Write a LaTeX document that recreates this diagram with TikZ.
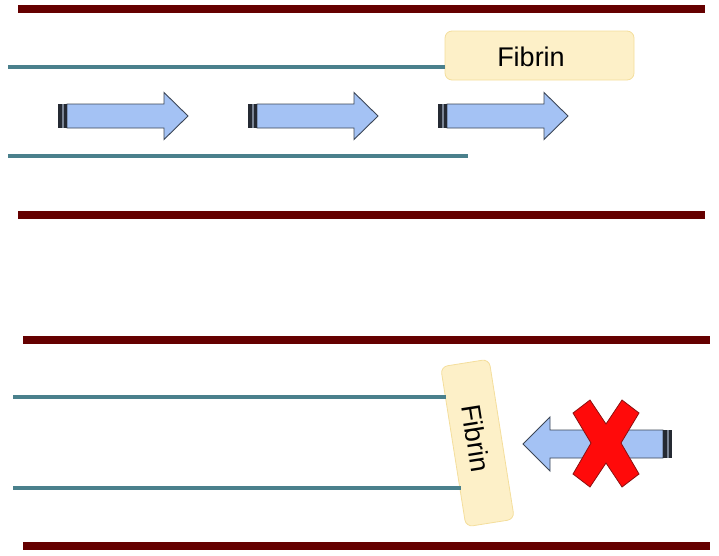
\documentclass[tikz,border=0pt]{standalone}
\usepackage{fontspec}
\setmainfont{Liberation Sans}
\begin{document}
\begin{tikzpicture}[x=1pt,y=-1pt,
  wall/.style={line width=8pt,draw=wallred},
  vessel/.style={line width=3.5pt,draw=tealc},
  fibbox/.style={draw=fibborder,fill=fibfill,rounded corners=7pt,line width=0.8pt,inner sep=0pt},
  fibtext/.style={font=\fontsize{27}{30}\selectfont,text=black,inner sep=0pt},
  arrowbody/.style={draw=arrowedge,fill=arrowfill,line width=0.9pt,line join=miter},
  pics/rarrow/.style={code={
    \draw[arrowbody] (9,-12) -- (106,-12) -- (106,-23.5) -- (130,0) -- (106,23.5) -- (106,12) -- (9,12) -- cycle;
    \fill[stripe] (0,-12) rectangle (9,12);
    \fill[stripegap] (4,-12) rectangle (5.5,12);
  }},
]
\definecolor{wallred}{HTML}{650000}
\definecolor{tealc}{HTML}{4A808C}
\definecolor{fibfill}{HTML}{FDF0C8}
\definecolor{fibborder}{HTML}{F4DE9C}
\definecolor{arrowfill}{HTML}{A4C2F4}
\definecolor{arrowedge}{HTML}{3C4656}
\definecolor{stripe}{HTML}{252A33}
\definecolor{stripegap}{HTML}{7A8494}
\definecolor{xred}{HTML}{FF0A0A}
\definecolor{xedge}{HTML}{8A1010}
\useasboundingbox (0,0) rectangle (719,555);

% walls
\coordinate (w1a) at (18,9);   \coordinate (w1b) at (705,9);
\coordinate (w2a) at (18,215); \coordinate (w2b) at (705,215);
\coordinate (w3a) at (23,340); \coordinate (w3b) at (710,340);
\coordinate (w4a) at (23,546); \coordinate (w4b) at (710,546);
\draw[wall] (w1a) -- (w1b);
\draw[wall] (w2a) -- (w2b);
\draw[wall] (w3a) -- (w3b);
\draw[wall] (w4a) -- (w4b);

% top panel
\node[fibbox,minimum width=189pt,minimum height=49pt] (fib1) at (539.5,55.5) {};
\node[fibtext] (fib1t) at (531,57) {Fibrin};
\coordinate (v1a) at (8,67);
\coordinate (v2a) at (8,156);
\coordinate (v2b) at (468,156);
\draw[vessel] (v1a) -- (v1a -| fib1.west);
\draw[vessel] (v2a) -- (v2b);
\pic at (58,116) {rarrow};
\pic at (248,116) {rarrow};
\pic at (438,116) {rarrow};

% bottom panel
\node[fibbox,minimum width=162pt,minimum height=49pt,rotate=-81] (fib2) at (477.5,443) {};
\node[fibtext,rotate=-81] (fib2t) at (476,438) {Fibrin};
\coordinate (v3a) at (13,397);
\coordinate (v3b) at (446,397);
\coordinate (v4a) at (13,488);
\coordinate (v4b) at (461,488);
\draw[vessel] (v3a) -- (v3b);
\draw[vessel] (v4a) -- (v4b);

% left-pointing blocked arrow
\draw[arrowbody] (663,430) -- (550,430) -- (550,417) -- (523,444) -- (550,471) -- (550,458) -- (663,458) -- cycle;
\fill[stripe] (663,430) rectangle (672,458);
\fill[stripegap] (667,430) rectangle (668.5,458);

% red X
\draw[fill=xred,draw=xedge,line width=0.8pt,line join=miter]
  (573,413) -- (590,400) -- (606,424) -- (622,400) -- (639,413) -- (621,443)
  -- (639,474) -- (622,487) -- (606,463) -- (590,487) -- (573,474) -- (591,443) -- cycle;
\end{tikzpicture}
\end{document}
